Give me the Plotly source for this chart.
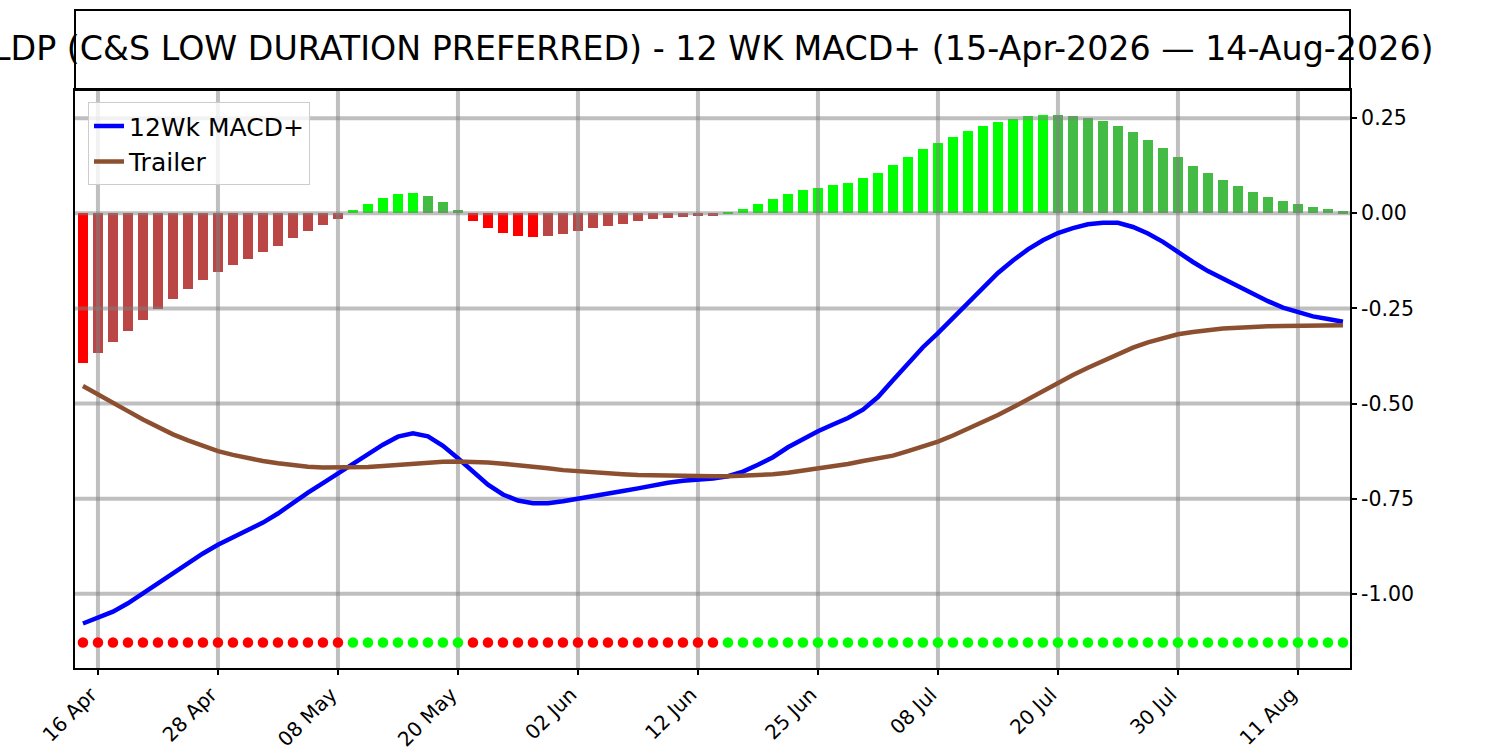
import plotly.graph_objs as go
import pandas as pd

# trading days 15-Apr-2026 .. 14-Aug-2026 (US market holidays removed)
holidays = ['2026-05-25', '2026-06-19', '2026-07-03']
dates = pd.bdate_range('2026-04-15', '2026-08-14', freq='C', holidays=holidays)

# histogram (MACD+ minus trailer, scaled)
hist = [-0.394, -0.368, -0.339, -0.310, -0.281, -0.251, -0.225, -0.199, -0.175, -0.154,
        -0.136, -0.120, -0.102, -0.086, -0.065, -0.047, -0.031, -0.015, 0.008, 0.024,
        0.039, 0.050, 0.053, 0.045, 0.029, 0.008, -0.020, -0.039, -0.053, -0.060,
        -0.062, -0.060, -0.054, -0.047, -0.039, -0.033, -0.028, -0.020, -0.015, -0.012,
        -0.010, -0.007, -0.006, 0.002, 0.010, 0.024, 0.037, 0.050, 0.060, 0.066,
        0.074, 0.079, 0.092, 0.105, 0.126, 0.147, 0.168, 0.184, 0.200, 0.216,
        0.229, 0.239, 0.247, 0.255, 0.259, 0.258, 0.255, 0.250, 0.242, 0.229,
        0.213, 0.192, 0.171, 0.147, 0.124, 0.105, 0.087, 0.071, 0.055, 0.042,
        0.031, 0.024, 0.016, 0.011, 0.005]

macd = [-1.078, -1.064, -1.047, -1.025, -0.999, -0.972, -0.945, -0.919, -0.894, -0.871,
        -0.852, -0.834, -0.813, -0.789, -0.761, -0.734, -0.709, -0.683, -0.657, -0.632,
        -0.608, -0.587, -0.578, -0.586, -0.611, -0.644, -0.678, -0.713, -0.739, -0.755,
        -0.762, -0.762, -0.757, -0.751, -0.744, -0.737, -0.730, -0.723, -0.715, -0.708,
        -0.703, -0.700, -0.697, -0.691, -0.679, -0.661, -0.641, -0.615, -0.593, -0.573,
        -0.555, -0.538, -0.516, -0.483, -0.439, -0.394, -0.352, -0.315, -0.275, -0.233,
        -0.194, -0.157, -0.124, -0.095, -0.071, -0.052, -0.039, -0.029, -0.025, -0.025,
        -0.036, -0.053, -0.075, -0.102, -0.128, -0.152, -0.172, -0.192, -0.211, -0.231,
        -0.248, -0.261, -0.271, -0.278, -0.285]

trailer = [-0.454, -0.475, -0.497, -0.520, -0.542, -0.562, -0.581, -0.597, -0.612, -0.625,
           -0.635, -0.644, -0.651, -0.657, -0.662, -0.666, -0.668, -0.668, -0.668, -0.667,
           -0.664, -0.661, -0.659, -0.656, -0.653, -0.652, -0.653, -0.655, -0.658, -0.661,
           -0.666, -0.670, -0.675, -0.678, -0.682, -0.684, -0.686, -0.688, -0.689, -0.690,
           -0.690, -0.690, -0.691, -0.691, -0.690, -0.689, -0.686, -0.682, -0.677, -0.672,
           -0.666, -0.659, -0.651, -0.644, -0.637, -0.625, -0.613, -0.600, -0.584, -0.567,
           -0.549, -0.530, -0.510, -0.488, -0.466, -0.446, -0.425, -0.406, -0.388, -0.369,
           -0.353, -0.339, -0.327, -0.318, -0.312, -0.307, -0.303, -0.301, -0.298, -0.297,
           -0.296, -0.295, -0.295, -0.294, -0.294]

signal_level = -1.128

y_ticks = [0.25, 0.0, -0.25, -0.5, -0.75, -1.0]
y_range = [-1.195, 0.324]
x_range = [-0.53, 84.47]

x = list(range(len(dates)))
tick_idx = list(range(1, len(dates), 8))
tick_text = [dates[i].strftime('%d %b') for i in tick_idx]

title = ('LDP (C&S LOW DURATION PREFERRED) - 12 WK MACD+ '
         '(15-Apr-2026 \u2014 14-Aug-2026)')

# bright colour when the bar grows away from zero, faded when it shrinks back
bar_colors = []
for i, v in enumerate(hist):
    prev = hist[i - 1] if i > 0 else 0
    if v >= 0:
        bar_colors.append('#00ff00' if v > prev else '#44bb44')
    else:
        bar_colors.append('#ff0000' if v < prev else '#bb4646')

dot_colors = ['#00ff00' if v >= 0 else '#ff0000' for v in hist]

# grid drawn as traces so it sits over the bars but under the lines
gx, gy = [], []
for t in tick_idx:
    gx += [t, t, None]
    gy += [y_range[0], y_range[1], None]
hx, hy = [], []
for t in y_ticks:
    hx += [x_range[0], x_range[1], None]
    hy += [t, t, None]

grid_style = dict(color='rgba(128,128,128,0.5)', width=4)

fig = go.Figure()
fig.add_trace(go.Bar(x=x, y=hist, width=0.7, marker=dict(color=bar_colors, line=dict(width=0)),
                     showlegend=False, hoverinfo='skip'))
fig.add_trace(go.Scatter(x=gx, y=gy, mode='lines', line=grid_style,
                         showlegend=False, hoverinfo='skip'))
fig.add_trace(go.Scatter(x=hx, y=hy, mode='lines', line=grid_style,
                         showlegend=False, hoverinfo='skip'))
fig.add_trace(go.Scatter(x=x, y=[signal_level] * len(x), mode='markers',
                         marker=dict(color=dot_colors, size=10.5, line=dict(width=0)),
                         showlegend=False))
fig.add_trace(go.Scatter(x=x, y=macd, mode='lines', name='12Wk MACD+',
                         line=dict(color='#0000ff', width=4.5)))
fig.add_trace(go.Scatter(x=x, y=trailer, mode='lines', name='Trailer',
                         line=dict(color='#8c5030', width=4.5)))

axis_common = dict(showline=True, linecolor='black', linewidth=2, mirror=True,
                   ticks='outside', ticklen=5, tickwidth=1.5, tickcolor='black',
                   showgrid=False, zeroline=False, automargin=False)

fig.update_layout(
    width=1500, height=750,
    margin=dict(l=75, r=150, t=90, b=82),
    paper_bgcolor='white', plot_bgcolor='white',
    font=dict(family='DejaVu Sans', color='black'),
    bargap=0,
    xaxis=dict(range=x_range, tickvals=tick_idx, ticktext=tick_text, tickangle=-45,
               ticklabelshift=-7,
               tickfont=dict(size=20, color='black'), **axis_common),
    yaxis=dict(range=y_range, side='right', tickvals=y_ticks,
               ticktext=['%.2f' % t for t in y_ticks],
               tickfont=dict(size=20.5, color='black'), **axis_common),
    legend=dict(x=0.0102, y=0.979, xanchor='left', yanchor='top',
                bgcolor='rgba(255,255,255,0.8)', bordercolor='#cccccc', borderwidth=1,
                font=dict(size=25), itemwidth=30),
    shapes=[dict(type='rect', xref='paper', yref='paper', x0=0, x1=1, y0=1, y1=1.1384,
                 line=dict(color='black', width=2))],
    annotations=[dict(text=title, xref='paper', yref='paper', x=0.5, y=1.0718,
                      xanchor='center', yanchor='middle', showarrow=False,
                      font=dict(size=33.3, color='black'))],
)

fig.write_html("out.html", config={'displayModeBar': False},
               post_script="document.body.style.margin = '0';")
